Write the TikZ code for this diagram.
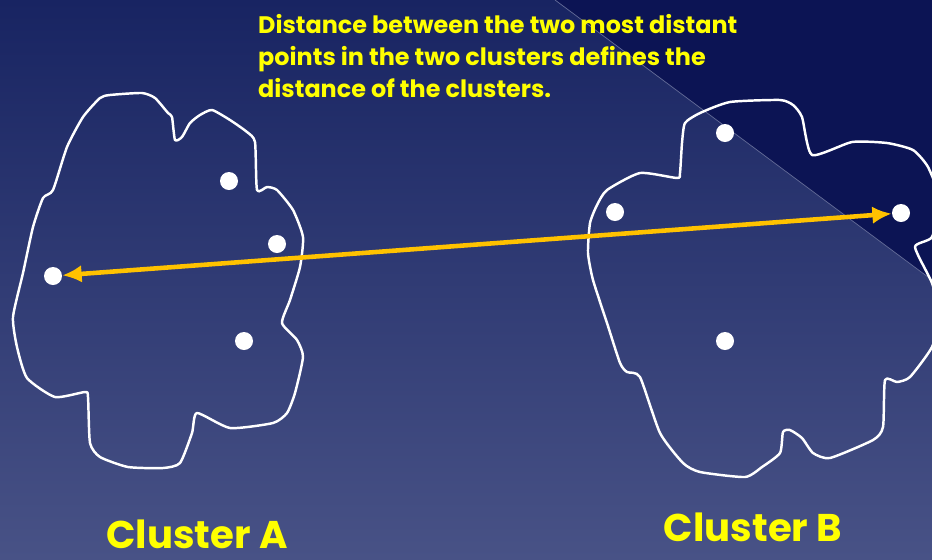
\documentclass[tikz,border=0pt]{standalone}
\usepackage{fontspec}
\setmainfont{Poppins}
\usetikzlibrary{arrows.meta}
\definecolor{bgtop}{RGB}{24,36,98}
\definecolor{bgbot}{RGB}{72,82,134}
\definecolor{bgdark}{RGB}{12,20,84}
\definecolor{hintline}{RGB}{100,108,152}
\definecolor{textyellow}{RGB}{255,255,0}
\definecolor{arrowgold}{RGB}{255,194,0}

\begin{document}
\begin{tikzpicture}[x=0.02cm,y=-0.02cm,
  pt/.style={circle,fill=white,inner sep=0pt,minimum size=0.36cm},
  blob/.style={draw=white,line width=1.4pt,line join=round},
  lbl/.style={text=textyellow,inner sep=0pt,font=\fontsize{22}{26}\selectfont\bfseries}]
\useasboundingbox (0,0) rectangle (932,559);
\clip (0,0) rectangle (932,559);
% background
\shade[top color=bgtop,bottom color=bgbot] (0,0) rectangle (932,559);
\fill[bgdark] (555,0) -- (932,0) -- (932,280) -- cycle;
\draw[hintline,line width=0.4pt] (555,0) -- (932,280);

% cluster A outline
\draw[blob] plot[smooth cycle,tension=0.35] coordinates {
  (142,93) (110,95) (100,98) (83,117) (67,147) (53,190) (43,198) (33,227)
  (23,273) (13,317) (17,347) (27,378) (55,397) (85,392) (88,397) (90,443)
  (100,457) (128,467) (163,468) (180,463) (192,433) (197,413) (230,428)
  (273,423) (287,413) (295,393) (303,357) (297,340) (282,323) (290,300)
  (300,267) (303,237) (293,210) (277,190) (267,187) (257,190) (255,142)
  (247,132) (230,120) (212,110) (200,115) (190,123) (182,137) (175,140)
  (172,117) (168,113) (155,98)};

% cluster B outline
\draw[blob] plot[smooth cycle,tension=0.35] coordinates {
  (730,102) (780,100) (793,105) (802,117) (812,155) (852,142) (887,143)
  (913,150) (928,167) (940,200) (932,237) (915,247) (932,283) (940,315)
  (932,347) (910,377) (897,382) (885,380) (883,427) (873,440) (830,458)
  (813,453) (802,438) (790,430) (783,432) (780,453) (762,467) (745,477)
  (700,472) (683,463) (660,433) (640,377) (627,372) (620,363) (607,323)
  (593,280) (588,253) (590,223) (597,205) (607,190) (640,173) (677,178)
  (680,173) (682,143) (685,123) (700,113)};

% points
\node[pt] (a1) at (229,181) {};
\node[pt] (a2) at (277,244) {};
\node[pt] (a3) at (53,276) {};
\node[pt] (a4) at (244,341) {};
\node[pt] (b1) at (725,133) {};
\node[pt] (b2) at (615,212) {};
\node[pt] (b3) at (901,213) {};
\node[pt] (b4) at (725,341) {};

\draw[{Latex[length=11pt,width=10pt]}-{Latex[length=11pt,width=10pt]},arrowgold,line width=2.6pt] (a3) -- (b3);

\node[anchor=north west,align=left,text=textyellow,font=\fontsize{13.6}{18.3}\selectfont\bfseries] (note) at (252,8)
  {Distance between the two most distant\\points in the two clusters defines the\\distance of the clusters.};
\node[lbl] (labA) at (197,534) {Cluster A};
\node[lbl] (labB) at (753,527) {Cluster B};
\end{tikzpicture}
\end{document}
